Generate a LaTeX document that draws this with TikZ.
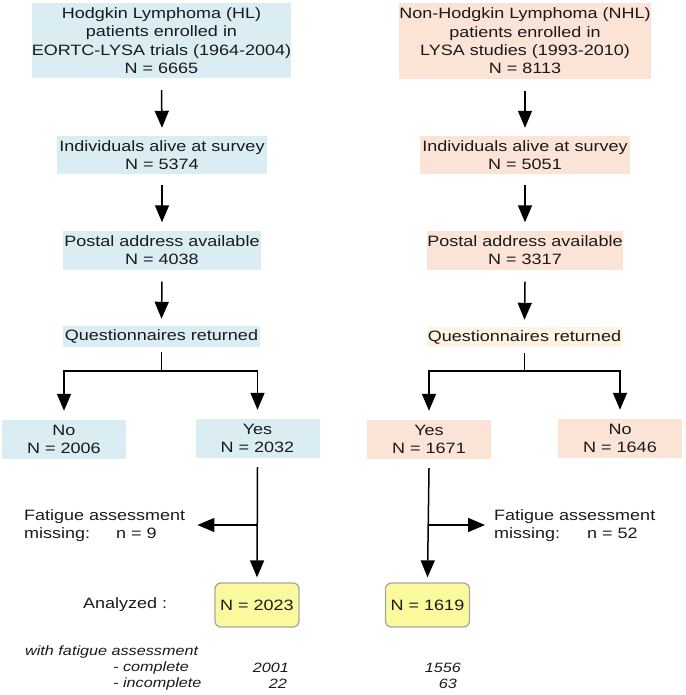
\documentclass[tikz,border=0pt]{standalone}
\usepackage{fontspec}
\setmainfont{Liberation Sans}[FakeStretch=1.2]
\usetikzlibrary{arrows.meta}
\definecolor{hlblue}{HTML}{DAEDF3}
\definecolor{nhlpeach}{HTML}{FBE4D6}
\definecolor{nhlcream}{HTML}{FDF3E2}
\definecolor{anyellow}{HTML}{FAF99E}
\definecolor{anborder}{HTML}{A8A8A0}
\definecolor{txt}{HTML}{1A1A1A}
\tikzset{
  box/.style={inner sep=0pt, align=center, text=txt, font=\fontsize{15}{18.3}\selectfont},
  hlbox/.style={box, fill=hlblue},
  nhlbox/.style={box, fill=nhlpeach},
  anbox/.style={box, fill=anyellow, draw=anborder, line width=1.3pt, rounded corners=6pt, minimum width=84pt, minimum height=44pt},
  plain/.style={inner sep=0pt, align=left, text=txt, font=\fontsize{15}{18.6}\selectfont},
  small/.style={inner sep=0pt, text=txt, font=\fontsize{13.5}{16}\selectfont\itshape},
  line/.style={line width=1.5pt, black},
  arr/.style={line, -{Triangle[width=14pt,length=17pt]}}
}
\begin{document}
\begin{tikzpicture}[x=1pt,y=-1pt]
\useasboundingbox (0,0) rectangle (685,695);
% HL column
\node[hlbox, minimum width=251pt, minimum height=75pt] (hl1) at (161.5,40.5)
  {Hodgkin Lymphoma (HL)\\patients enrolled in\\EORTC-LYSA trials (1964-2004)\\N = 6665};
\node[hlbox, minimum width=210pt, minimum height=38pt] (hl2) at (162,155)
  {Individuals alive at survey\\N = 5374};
\node[hlbox, minimum width=198pt, minimum height=39pt] (hl3) at (162,250)
  {Postal address available\\N = 4038};
\node[hlbox, minimum width=197pt, minimum height=21pt] (hl4) at (161.5,336.5)
  {Questionnaires returned};
\node[hlbox, minimum width=124pt, minimum height=39pt] (hlno) at (64,439.5)
  {No\\N = 2006};
\node[hlbox, minimum width=124pt, minimum height=39pt] (hlyes) at (257.5,438.5)
  {Yes\\N = 2032};
\node[anbox] (hlan) at (257,605) {N = 2023};
\node[plain, anchor=west] (hlfat) at (24,525.5)
  {Fatigue assessment\\\makebox[92pt][l]{missing:}n = 9};
\node[plain, anchor=west] (anl) at (83,605) {Analyzed :};

% NHL column
\node[nhlbox, minimum width=250pt, minimum height=76pt] (nhl1) at (525,41)
  {Non-Hodgkin Lymphoma (NHL)\\patients enrolled in\\LYSA studies (1993-2010)\\N = 8113};
\node[nhlbox, minimum width=210pt, minimum height=38pt] (nhl2) at (525,155)
  {Individuals alive at survey\\N = 5051};
\node[nhlbox, minimum width=196pt, minimum height=39pt] (nhl3) at (525,250)
  {Postal address available\\N = 3317};
\node[box, fill=nhlcream, minimum width=195pt, minimum height=20pt] (nhl4) at (524.5,337)
  {Questionnaires returned};
\node[nhlbox, minimum width=124pt, minimum height=39pt] (nhlyes) at (429,439.5)
  {Yes\\N = 1671};
\node[nhlbox, minimum width=124pt, minimum height=39pt] (nhlno) at (620,438.5)
  {No\\N = 1646};
\node[anbox] (nhlan) at (427.5,605) {N = 1619};
\node[plain, anchor=west] (nhlfat) at (494,525.5)
  {Fatigue assessment\\\makebox[93pt][l]{missing:}n = 52};

% bottom notes
\node[small, anchor=west] (w1) at (25,652) {with fatigue assessment};
\node[small, anchor=west] (w2) at (113,668) {- complete};
\node[small, anchor=west] (w3) at (113,684) {- incomplete};
\node[small, anchor=east] (h1) at (289,668) {2001};
\node[small, anchor=east] (h2) at (287,684) {22};
\node[small, anchor=east] (n1) at (461,668) {1556};
\node[small, anchor=east] (n2) at (457,684) {63};

% HL arrows (canvas y points up: negative yshift = downward)
\draw[arr] ([yshift=-12pt]hl1.south) -- ([yshift=8pt]hl2.north);
\draw[arr] ([yshift=-11pt]hl2.south) -- ([yshift=8pt]hl3.north);
\draw[arr] ([yshift=-12pt]hl3.south) -- ([yshift=7pt]hl4.north);
\coordinate (hlb) at (161.5,371);
\draw[line] ([yshift=-5pt]hl4.south) -- (hlb);
\draw[arr] (hlb) -| ([yshift=9pt]hlno.north);
\draw[arr] (hlb) -| ([yshift=9pt]hlyes.north);
\coordinate (hlj) at (257.5,525);
\draw[arr] ([yshift=-9pt]hlyes.south) -- ([yshift=5pt]hlan.north);
\draw[arr] (hlj) -- ([xshift=12pt]hlfat.east |- hlj);

% NHL arrows
\draw[arr] ([yshift=-12pt]nhl1.south) -- ([yshift=8pt]nhl2.north);
\draw[arr] ([yshift=-11pt]nhl2.south) -- ([yshift=8pt]nhl3.north);
\draw[arr] ([yshift=-12pt]nhl3.south) -- ([yshift=7pt]nhl4.north);
\coordinate (nhlb) at (524.5,371);
\draw[line] ([yshift=-6pt]nhl4.south) -- (nhlb);
\draw[arr] (nhlb) -| ([yshift=9pt]nhlyes.north);
\draw[arr] (nhlb) -| ([yshift=9pt]nhlno.north);
\coordinate (nhlj) at (428,525);
\draw[arr] ([yshift=-9pt]nhlyes.south) -- ([yshift=5pt]nhlan.north);
\draw[arr] (nhlj) -- ([xshift=-9pt]nhlfat.west |- nhlj);
\end{tikzpicture}
\end{document}
